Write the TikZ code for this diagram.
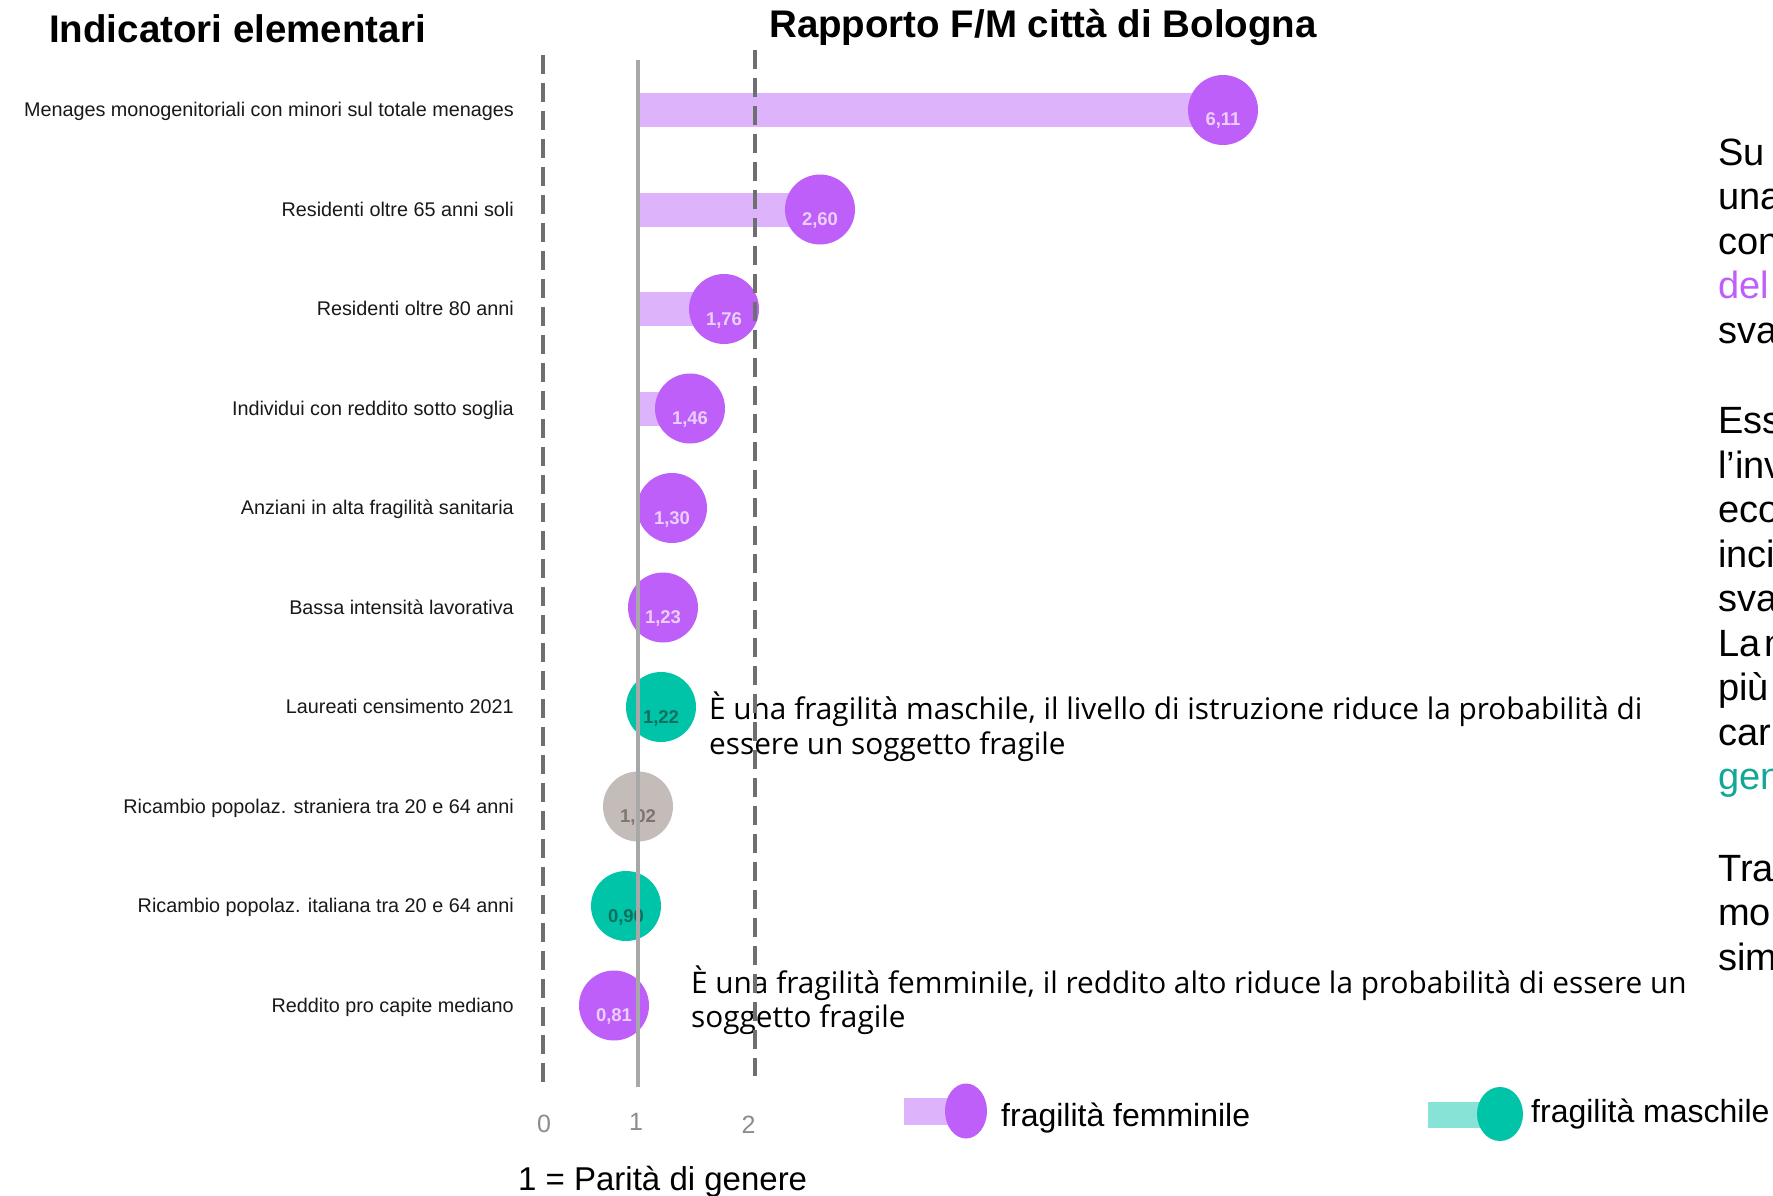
\documentclass[tikz,border=0pt]{standalone}
\usepackage{fontspec}
\setmainfont{Liberation Sans}
\newfontfamily\osans{Open Sans}
\usetikzlibrary{calc,shapes.geometric}
\definecolor{fpurple}{HTML}{BF5FFA}
\definecolor{fbar}{HTML}{DDB3FC}
\definecolor{flbl}{HTML}{EACFFD}
\definecolor{mteal}{HTML}{00C4A8}
\definecolor{mbar}{HTML}{86E3D6}
\definecolor{mlbl}{HTML}{0B6F60}
\definecolor{ngray}{HTML}{C4BCB8}
\definecolor{nlbl}{HTML}{7E7571}
\definecolor{dashgray}{HTML}{6F6F6F}
\definecolor{solidgray}{HTML}{A8A8A8}
\definecolor{axgray}{HTML}{8C8C8C}
\definecolor{tealtext}{HTML}{14A797}
\begin{document}
\begin{tikzpicture}[x=1pt,y=-1pt,
  title/.style={font=\fontsize{38.5}{40}\selectfont\bfseries, inner sep=0pt, anchor=base west},
  rowlbl/.style={font=\fontsize{19.8}{20}\selectfont, text=black!90, inner sep=0pt, anchor=base east},
  bub/.style={circle, minimum size=70pt, inner sep=0pt, draw=none},
  fbub/.style={bub, fill=fpurple},
  mbub/.style={bub, fill=mteal},
  nbub/.style={bub, fill=ngray},
  val/.style={font=\fontsize{18.5}{18}\selectfont\bfseries, inner sep=0pt, anchor=base},
  ann/.style={font=\osans\fontsize{29.75}{30}\selectfont, inner sep=0pt, anchor=base west},
  leg/.style={font=\fontsize{32}{32}\selectfont, inner sep=0pt, anchor=base west},
  axl/.style={font=\fontsize{25}{25}\selectfont, text=axgray, inner sep=0pt, anchor=base},
  rt/.style={font=\fontsize{38}{38}\selectfont, inner sep=0pt, anchor=base west},
  dashline/.style={draw=dashgray, line width=3.5pt, dash pattern=on 19pt off 9pt},
  solidline/.style={draw=solidgray, line width=3.3pt}
]
\useasboundingbox (0,0) rectangle (1773,1196);
\clip (0,0) rectangle (1773,1196);
\fill[white] (0,0) rectangle (1773,1196);

% titles
\node[title] (t1) at (49,43) {Indicatori elementari};
\node[title] (t2) at (769,38) {Rapporto F/M città di Bologna};

% row labels
\node[rowlbl] (r1) at (514,116.5) {Menages monogenitoriali con minori sul totale menages};
\node[rowlbl] (r2) at (514,216) {Residenti oltre 65 anni soli};
\node[rowlbl] (r3) at (514,315.5) {Residenti oltre 80 anni};
\node[rowlbl] (r4) at (514,415) {Individui con reddito sotto soglia};
\node[rowlbl] (r5) at (514,514.5) {Anziani in alta fragilità sanitaria};
\node[rowlbl] (r6) at (514,614) {Bassa intensità lavorativa};
\node[rowlbl] (r7) at (514,713.5) {Laureati censimento 2021};
\node[rowlbl] (r8) at (514,813) {Ricambio popolaz. straniera tra 20 e 64 anni};
\node[rowlbl] (r9) at (514,912.5) {Ricambio popolaz. italiana tra 20 e 64 anni};
\node[rowlbl] (r10) at (514,1012) {Reddito pro capite mediano};

% bars
\fill[fbar] (638,93) rectangle (1223,127);
\fill[fbar] (638,192.5) rectangle (820,226.5);
\fill[fbar] (638,292) rectangle (724,326);
\fill[fbar] (638,391.5) rectangle (690,425.5);

% bubbles
\node[fbub] (b1) at (1223,110) {};
\node[fbub] (b2) at (820,209.5) {};
\node[fbub] (b3) at (724,309) {};
\node[fbub] (b4) at (690,408.5) {};
\node[fbub] (b5) at (672,508) {};
\node[fbub] (b6) at (663,607.5) {};
\node[mbub] (b7) at (661,707) {};
\node[nbub] (b8) at (638,806.5) {};
\node[mbub] (b9) at (626,906) {};
\node[fbub] (b10) at (614,1005.5) {};

% values
\node[val, text=flbl] (v1) at ($(b1.center)+(0,16)$) {6,11};
\node[val, text=flbl] (v2) at ($(b2.center)+(0,16)$) {2,60};
\node[val, text=flbl] (v3) at ($(b3.center)+(0,16)$) {1,76};
\node[val, text=flbl] (v4) at ($(b4.center)+(0,16)$) {1,46};
\node[val, text=flbl] (v5) at ($(b5.center)+(0,16)$) {1,30};
\node[val, text=flbl] (v6) at ($(b6.center)+(0,16)$) {1,23};
\node[val, text=mlbl] (v7) at ($(b7.center)+(0,16)$) {1,22};
\node[val, text=nlbl] (v8) at ($(b8.center)+(0,16)$) {1,02};
\node[val, text=mlbl] (v9) at ($(b9.center)+(0,16)$) {0,90};
\node[val, text=flbl] (v10) at ($(b10.center)+(0,16)$) {0,81};

% annotations
\node[ann] (a1) at (709,719) {È una fragilità maschile, il livello di istruzione riduce la probabilità di};
\node[ann] (a1b) at (709,754) {essere un soggetto fragile};
\node[ann] (a2) at (691,993) {È una fragilità femminile, il reddito alto riduce la probabilità di essere un};
\node[ann] (a2b) at (691,1027) {soggetto fragile};

% reference lines
\coordinate (d0t) at (543,55);  \coordinate (d0b) at (543,1082);
\coordinate (s1t) at (638,60);  \coordinate (s1b) at (638,1087);
\coordinate (d2t) at (755,50);  \coordinate (d2b) at (755,1076);
\draw[dashline] (d0t) -- (d0b);
\draw[dashline] (d2t) -- (d2b);
\draw[solidline] (s1t) -- (s1b);

% axis labels
\node[axl] (x0) at (544,1132) {0};
\node[axl] (x1) at (636,1130) {1};
\node[axl] (x2) at (748.5,1133) {2};
\node[font=\fontsize{33}{33}\selectfont, inner sep=0pt, anchor=base west] (par) at (518,1190) {1 = Parità di genere};

% legend
\fill[fbar] (904,1098) rectangle (954,1125);
\node[ellipse, minimum width=42pt, minimum height=55pt, inner sep=0pt, fill=fpurple] (lf) at (966,1111) {};
\node[leg] (lft) at (1001,1126) {fragilità femminile};
\fill[mbar] (1428,1102) rectangle (1482,1128);
\node[ellipse, minimum width=46pt, minimum height=54pt, inner sep=0pt, fill=mteal] (lm) at (1500,1114) {};
\node[leg] (lmt) at (1531,1122) {fragilità maschile};

% right column text (cut off by the picture edge, as in the reference)
\node[rt] (p1) at (1718,165) {Su};
\node[rt] (p2) at (1718,209.5) {una};
\node[rt] (p3) at (1718,254) {con};
\node[rt, text=fpurple] (p4) at (1718,298.5) {del};
\node[rt] (p5) at (1718,343) {sva};
\node[rt] (q1) at (1718,433.5) {Ess};
\node[rt] (q2) at (1718,478) {l’inv};
\node[rt] (q3) at (1718,522.5) {eco};
\node[rt] (q4) at (1718,567) {inci};
\node[rt] (q5) at (1718,611.5) {sva};
\node[rt] (q6) at (1718,656) {La\hspace{4pt}m};
\node[rt] (q7) at (1718,700.5) {più};
\node[rt] (q8) at (1718,745) {car};
\node[rt, text=tealtext] (q9) at (1718,789.5) {gen};
\node[rt] (s1) at (1718,881) {Tra};
\node[rt] (s2) at (1718,925.5) {mo};
\node[rt] (s3) at (1718,970) {sim};
\end{tikzpicture}
\end{document}
